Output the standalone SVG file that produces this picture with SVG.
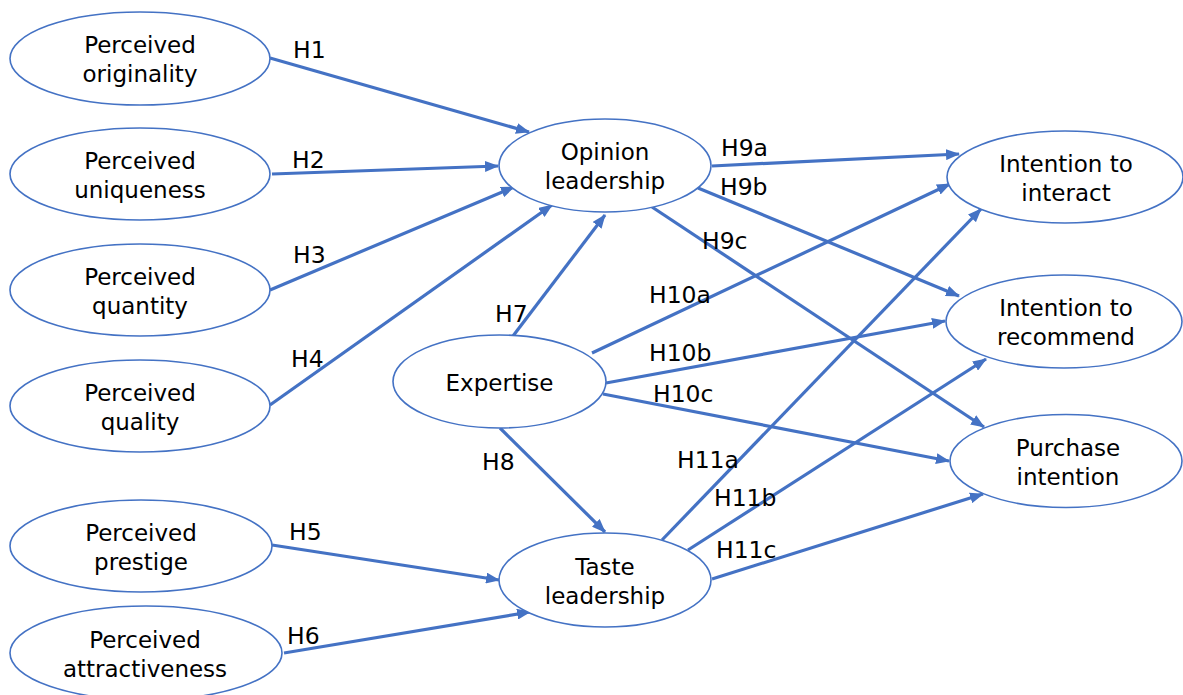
<svg xmlns="http://www.w3.org/2000/svg" width="1183" height="695" viewBox="0 0 1183 695">
<style>
.n{fill:#fff;stroke:#4472C4;stroke-width:1.6}
.t{font-family:"DejaVu Sans",sans-serif;font-size:23px;fill:#000;text-anchor:middle}
.l{font-family:"DejaVu Sans",sans-serif;font-size:23.5px;fill:#000}
.c line{stroke:#4472C4;stroke-width:3.2;marker-end:url(#a)}
</style>
<defs>
<marker id="a" markerUnits="userSpaceOnUse" markerWidth="14" markerHeight="11" viewBox="0 0 14 11" refX="13" refY="5.5" orient="auto">
<path d="M0,0 L14,5.5 L0,11 z" fill="#4472C4"/>
</marker>
</defs>
<rect width="1183" height="695" fill="#fff"/>
<g class="c" id="connectors">
<line x1="270" y1="58" x2="529" y2="132"/>
<line x1="272" y1="174" x2="498" y2="166"/>
<line x1="270" y1="290" x2="514" y2="187"/>
<line x1="270" y1="405" x2="552" y2="205"/>
<line x1="513" y1="336" x2="605" y2="215"/>
<line x1="500" y1="428" x2="605" y2="532"/>
<line x1="272" y1="545" x2="499" y2="580"/>
<line x1="284" y1="653" x2="530" y2="612"/>
<line x1="712" y1="166" x2="959" y2="154"/>
<line x1="698" y1="188" x2="959" y2="296"/>
<line x1="652" y1="207" x2="984" y2="427"/>
<line x1="592" y1="353" x2="950" y2="184"/>
<line x1="606" y1="383" x2="945" y2="321"/>
<line x1="603" y1="394" x2="949" y2="461"/>
<line x1="662" y1="540" x2="981" y2="209"/>
<line x1="688" y1="550" x2="986" y2="359"/>
<line x1="712" y1="579" x2="983" y2="494"/>
</g>
<g id="labels">
<text class="l" x="293" y="58">H1</text>
<text class="l" x="292" y="168">H2</text>
<text class="l" x="293" y="263">H3</text>
<text class="l" x="291" y="367">H4</text>
<text class="l" x="289" y="540">H5</text>
<text class="l" x="287" y="644">H6</text>
<text class="l" x="495" y="322">H7</text>
<text class="l" x="482" y="470">H8</text>
<text class="l" x="721" y="156">H9a</text>
<text class="l" x="720" y="195">H9b</text>
<text class="l" x="702" y="249">H9c</text>
<text class="l" x="649" y="303">H10a</text>
<text class="l" x="649" y="361">H10b</text>
<text class="l" x="653" y="402">H10c</text>
<text class="l" x="677" y="468">H11a</text>
<text class="l" x="714" y="506">H11b</text>
<text class="l" x="716" y="558">H11c</text>
</g>
<g id="originality"><ellipse class="n" cx="140" cy="58.5" rx="130" ry="46.5"/><text class="t" x="140" y="53">Perceived</text><text class="t" x="140" y="82">originality</text></g>
<g id="uniqueness"><ellipse class="n" cx="140" cy="174" rx="130" ry="46"/><text class="t" x="140" y="168.5">Perceived</text><text class="t" x="140" y="197.5">uniqueness</text></g>
<g id="quantity"><ellipse class="n" cx="140" cy="290" rx="130" ry="46"/><text class="t" x="140" y="284.5">Perceived</text><text class="t" x="140" y="313.5">quantity</text></g>
<g id="quality"><ellipse class="n" cx="140" cy="406" rx="130" ry="46"/><text class="t" x="140" y="400.5">Perceived</text><text class="t" x="140" y="429.5">quality</text></g>
<g id="prestige"><ellipse class="n" cx="141" cy="546" rx="131" ry="46"/><text class="t" x="141" y="540.5">Perceived</text><text class="t" x="141" y="569.5">prestige</text></g>
<g id="attractiveness"><ellipse class="n" cx="146" cy="653" rx="136" ry="47"/><text class="t" x="145" y="647.5">Perceived</text><text class="t" x="145" y="676.5">attractiveness</text></g>
<g id="opinion"><ellipse class="n" cx="605" cy="165.5" rx="106" ry="46.5"/><text class="t" x="605" y="160">Opinion</text><text class="t" x="605" y="189">leadership</text></g>
<g id="expertise"><ellipse class="n" cx="499.5" cy="381.5" rx="106.5" ry="46.5"/><text class="t" x="499.5" y="391">Expertise</text></g>
<g id="taste"><ellipse class="n" cx="605" cy="580" rx="106" ry="47"/><text class="t" x="605" y="574.5">Taste</text><text class="t" x="605" y="603.5">leadership</text></g>
<g id="interact"><ellipse class="n" cx="1065" cy="177" rx="118" ry="46"/><text class="t" x="1066" y="171.5">Intention to</text><text class="t" x="1066" y="200.5">interact</text></g>
<g id="recommend"><ellipse class="n" cx="1064" cy="321.5" rx="118" ry="46.5"/><text class="t" x="1066" y="316">Intention to</text><text class="t" x="1066" y="345">recommend</text></g>
<g id="purchase"><ellipse class="n" cx="1066" cy="461" rx="116" ry="46.5"/><text class="t" x="1068" y="455.5">Purchase</text><text class="t" x="1068" y="484.5">intention</text></g>
</svg>
